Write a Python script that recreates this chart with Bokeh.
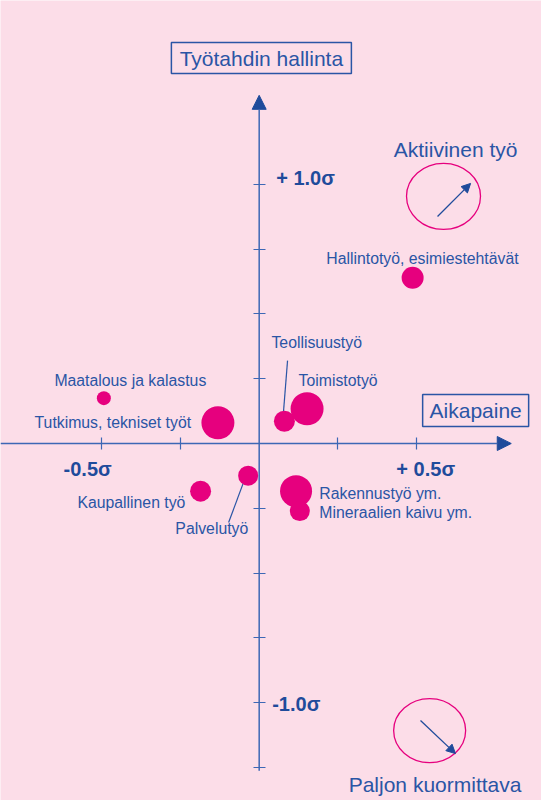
from bokeh.plotting import figure
from bokeh.models import LinearAxis, FixedTicker, Arrow, NormalHead, Range1d, ColumnDataSource
from bokeh.core.properties import value
from bokeh.embed import file_html
from bokeh.resources import INLINE

# ---- data -------------------------------------------------------------
occupations = ["Maatalous ja kalastus", "Tutkimus, tekniset työt", "Teollisuustyö",
               "Toimistotyö", "Hallintotyö, esimiestehtävät", "Kaupallinen työ",
               "Palvelutyö", "Rakennustyö ym.", "Mineraalien kaivu ym."]
aikapaine = [-0.493, -0.131, 0.080, 0.152, 0.487, -0.186, -0.035, 0.117, 0.129]
tyotahti = [0.175, 0.080, 0.086, 0.134, 0.640, -0.184, -0.124, -0.184, -0.261]
group_size = [14, 33, 21, 33, 22, 21, 20, 32, 20]

x_ticks = [-0.5, -0.25, 0.25, 0.5]
y_ticks = [1.0, 0.75, 0.5, 0.25, -0.25, -0.5, -0.75, -1.0, -1.25]
x_tick_labels = {-0.5: "-0.5σ", 0.5: "+ 0.5σ"}
y_tick_labels = {1.0: "+ 1.0σ", -1.0: "-1.0σ"}

# ---- layout (label anchors in data units) ----------------------------
label_x = [-0.650, -0.713, 0.039, 0.125, 0.213, -0.577, -0.266, 0.191, 0.191]
label_y = [0.243, 0.081, 0.390, 0.243, 0.714, -0.228, -0.328, -0.193, -0.266]

BG = "#fcdde8"
BLUE = "#2a55a5"
DARK = "#1f4b9b"
AXIS = "#3d67b5"
MAGENTA = "#e6007e"
FONT = "Liberation Sans"

p = figure(width=541, height=800, x_range=Range1d(-0.821, 0.896), y_range=Range1d(-1.378, 1.710),
           output_backend="svg", toolbar_location=None, x_axis_location=None, y_axis_location=None,
           min_border=0, background_fill_color=BG, border_fill_color=BG, outline_line_color=None)
p.grid.visible = False

xaxis = LinearAxis(fixed_location=0, ticker=FixedTicker(ticks=x_ticks),
                   major_label_overrides={t: "" for t in x_ticks},
                   axis_line_color=None, major_tick_line_color=AXIS, major_tick_line_width=1.2,
                   major_tick_in=6, major_tick_out=6, minor_tick_line_color=None)
p.add_layout(xaxis, "below")
yaxis = LinearAxis(fixed_location=0, ticker=FixedTicker(ticks=y_ticks),
                   major_label_overrides={t: "" for t in y_ticks},
                   axis_line_color=None, major_tick_line_color=AXIS, major_tick_line_width=1.2,
                   major_tick_in=6, major_tick_out=6, minor_tick_line_color=None)
p.add_layout(yaxis, "left")

# axis arrows
p.add_layout(Arrow(x_start=-0.821, y_start=0, x_end=0.80, y_end=0, line_color=AXIS, line_width=1.5,
                   end=NormalHead(size=14, fill_color=DARK, line_color=DARK)))
p.add_layout(Arrow(x_start=0, y_start=-1.263, x_end=0, y_end=1.344, line_color=AXIS, line_width=1.5,
                   end=NormalHead(size=14, fill_color=DARK, line_color=DARK)))

# tick labels
p.text(x=list(x_tick_labels.keys()), y=[0, 0], text=list(x_tick_labels.values()),
       x_offset=[-14, 9], y_offset=[25, 25], text_align="center", text_baseline="middle",
       text_font=value(FONT), text_font_style="bold", text_font_size="20px", text_color=DARK)
p.text(x=[0, 0], y=list(y_tick_labels.keys()), text=list(y_tick_labels.values()),
       x_offset=[17, 13], y_offset=[-6, 1], text_align="left", text_baseline="middle",
       text_font=value(FONT), text_font_style="bold", text_font_size="20px", text_color=DARK)

# leader lines
p.segment(x0=[0.090, -0.050], y0=[0.320, -0.151], x1=[0.077, -0.097], y1=[0.120, -0.305],
          line_color=BLUE, line_width=1.2)

# bubbles
src = ColumnDataSource(dict(x=aikapaine, y=tyotahti, s=group_size, name=occupations,
                            lx=label_x, ly=label_y))
p.scatter("x", "y", size="s", source=src, fill_color=MAGENTA, line_color=None)
p.text("lx", "ly", text="name", source=src, text_align="left", text_baseline="middle",
       text_font=value(FONT), text_font_size="15.8px", text_color=BLUE)

# boxed axis titles
p.rect(x=[0.007, 0.687], y=[1.488, 0.127], width=[180, 106], height=[31, 32],
       width_units="screen", height_units="screen", fill_color=None, line_color=BLUE, line_width=1.5)
p.text(x=[0.007, 0.687], y=[1.486, 0.127], text=["Työtahdin hallinta", "Aikapaine"],
       text_align="center", text_baseline="middle", text_font=value(FONT),
       text_font_size="21px", text_color=BLUE)

# corner legends
p.text(x=[0.427, 0.284], y=[1.135, -1.317], text=["Aktiivinen työ", "Paljon kuormittava"],
       text_align="left", text_baseline="middle", text_font=value(FONT),
       text_font_size="21px", text_color=BLUE)
p.ellipse(x=[0.585, 0.541], y=[0.954, -1.108], width=[74, 72], height=[66, 64],
          width_units="screen", height_units="screen", fill_color=None,
          line_color=MAGENTA, line_width=1.3)
p.add_layout(Arrow(x_start=0.566, y_start=0.876, x_end=0.671, y_end=1.004, line_color=DARK,
                   line_width=1.3, end=NormalHead(size=9, fill_color=DARK, line_color=DARK)))
p.add_layout(Arrow(x_start=0.512, y_start=-1.069, x_end=0.623, y_end=-1.197, line_color=DARK,
                   line_width=1.3, end=NormalHead(size=9, fill_color=DARK, line_color=DARK)))

open("out.html", "w").write(file_html(p, INLINE))
